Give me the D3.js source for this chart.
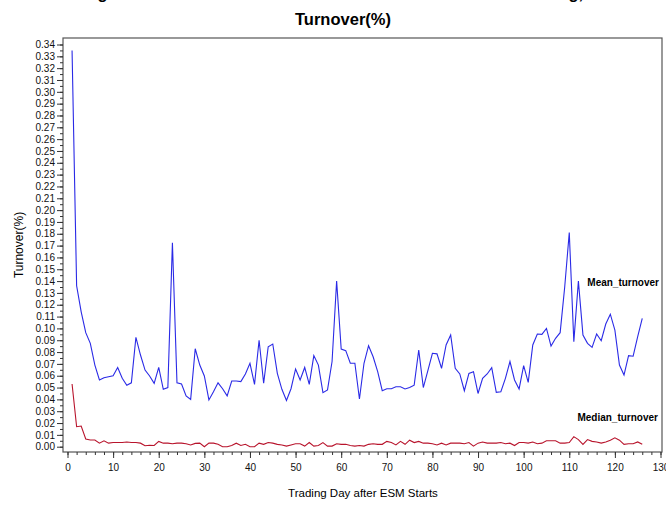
<!DOCTYPE html>
<html>
<head>
<meta charset="utf-8">
<script src="https://cdn.jsdelivr.net/npm/d3@7"></script>
<style>
  body { margin: 0; background: #fff; }
  svg { display: block; font-family: "Liberation Sans", Arial, sans-serif; }
</style>
</head>
<body>
<svg id="chart" width="666" height="506"></svg>
<script>
    // trading day 1..126
    var days = d3.range(1, 127);

    var meanTurnover = [
        0.335, 0.136, 0.114, 0.0964, 0.0874, 0.069, 0.0564, 0.0583, 0.0592, 0.060,
        0.067, 0.0578, 0.052, 0.054, 0.0925, 0.0775, 0.0648, 0.0598, 0.0536, 0.067,
        0.0485, 0.050, 0.1725, 0.054, 0.053, 0.043, 0.040, 0.0828, 0.069, 0.0598,
        0.0395, 0.0465, 0.054, 0.049, 0.043, 0.0555, 0.0555, 0.055, 0.0615, 0.0705,
        0.0527, 0.090, 0.0536, 0.0845, 0.0868, 0.062, 0.0485, 0.039, 0.049, 0.0657,
        0.0564, 0.067, 0.0527, 0.077, 0.069, 0.0457, 0.048, 0.072, 0.140, 0.0826,
        0.0812, 0.0705, 0.0705, 0.0403, 0.0705, 0.0854, 0.076, 0.0634, 0.0473, 0.049,
        0.049, 0.0507, 0.0507, 0.0488, 0.050, 0.052, 0.0817, 0.050, 0.0643, 0.079,
        0.0785, 0.0663, 0.086, 0.0944, 0.0663, 0.0615, 0.0473, 0.062, 0.0634, 0.045,
        0.0578, 0.0615, 0.0668, 0.046, 0.0465, 0.0578, 0.072, 0.0564, 0.0488, 0.0685,
        0.0544, 0.086, 0.0953, 0.095, 0.100, 0.085, 0.0916, 0.0964, 0.135, 0.181,
        0.0888, 0.140, 0.0944, 0.0874, 0.084, 0.0953, 0.0896, 0.1037, 0.112, 0.0986,
        0.069, 0.0606, 0.077, 0.0765, 0.093, 0.1085
    ];

    var medianTurnover = [
        0.053, 0.0169, 0.0175, 0.0065, 0.0057, 0.0057, 0.003, 0.005, 0.003, 0.0035,
        0.0035, 0.0035, 0.004, 0.0035, 0.0035, 0.003, 0.0008, 0.0012, 0.001, 0.0045,
        0.003, 0.003, 0.0025, 0.003, 0.003, 0.0025, 0.0015, 0.0028, 0.003, 0.0,
        0.003, 0.003, 0.002, 0.0, 0.0, 0.001, 0.003, 0.001, 0.002, 0.0,
        0.0, 0.003, 0.002, 0.0035, 0.003, 0.002, 0.0015, 0.0005, 0.0015, 0.0025,
        0.0025, 0.0005, 0.0035, 0.0005, 0.001, 0.0035, 0.0005, 0.0005, 0.0025, 0.002,
        0.002, 0.001, 0.0005, 0.001, 0.0005, 0.002, 0.0025, 0.002, 0.002, 0.0045,
        0.0035, 0.0015, 0.0045, 0.002, 0.0055, 0.0035, 0.0045, 0.003, 0.003, 0.0025,
        0.0015, 0.003, 0.0015, 0.003, 0.003, 0.003, 0.0025, 0.0035, 0.0005, 0.003,
        0.004, 0.003, 0.003, 0.003, 0.0035, 0.0025, 0.003, 0.001, 0.0035, 0.0035,
        0.003, 0.004, 0.0025, 0.003, 0.005, 0.005, 0.005, 0.003, 0.003, 0.0035,
        0.0085, 0.006, 0.002, 0.006, 0.0045, 0.004, 0.003, 0.004, 0.0055, 0.0075,
        0.0055, 0.002, 0.0025, 0.0025, 0.004, 0.002
    ];

    var xTicks = d3.range(0, 131, 10);
    var xMinorTicks = d3.range(0, 131, 2);
    var yTicks = d3.range(0, 35).map(function (i) { return i / 100; });
    var yMinorTicks = d3.range(0, 69).map(function (i) { return i / 200; });

    var svg = d3.select("#chart");

    var frame = { left: 63, top: 38, right: 662, bottom: 452 };

    var x = d3.scaleLinear().domain([0, 130]).range([67.5, 660.5]);
    var y = d3.scaleLinear().domain([0, 0.34]).range([446.7, 44.5]);

    // title (first line runs off the top of the image)
    svg.append("text")
        .attr("x", 333).attr("y", -1)
        .attr("text-anchor", "middle")
        .attr("font-size", 16.5).attr("font-weight", "bold")
        .text("Figure 4: Mean and Median of Stock Turnover after ESM Listing,");
    svg.append("text")
        .attr("x", 343).attr("y", 25)
        .attr("text-anchor", "middle")
        .attr("font-size", 16.5).attr("font-weight", "bold")
        .text("Turnover(%)");

    // frame
    svg.append("rect")
        .attr("x", frame.left).attr("y", frame.top)
        .attr("width", frame.right - frame.left)
        .attr("height", frame.bottom - frame.top)
        .attr("fill", "none")
        .attr("stroke", "#555")
        .attr("stroke-width", 1.2);

    // y axis
    var yMinor = svg.append("g")
        .attr("transform", "translate(" + frame.left + ",0)")
        .call(d3.axisLeft(y).tickValues(yMinorTicks).tickSize(3).tickFormat(""));
    yMinor.select(".domain").remove();

    var yAxis = svg.append("g")
        .attr("transform", "translate(" + frame.left + ",0)")
        .call(d3.axisLeft(y).tickValues(yTicks).tickSize(6).tickPadding(2).tickFormat(d3.format(".2f")));
    yAxis.select(".domain").remove();
    yAxis.selectAll("text").attr("font-size", 10).attr("font-family", "Liberation Sans, Arial, sans-serif").attr("fill", "#111");

    // x axis
    var xMinor = svg.append("g")
        .attr("transform", "translate(0," + frame.bottom + ")")
        .call(d3.axisBottom(x).tickValues(xMinorTicks).tickSize(3).tickFormat(""));
    xMinor.select(".domain").remove();

    var xAxis = svg.append("g")
        .attr("transform", "translate(0," + frame.bottom + ")")
        .call(d3.axisBottom(x).tickValues(xTicks).tickSize(6).tickPadding(6));
    xAxis.select(".domain").remove();
    xAxis.selectAll("text").attr("font-size", 10).attr("font-family", "Liberation Sans, Arial, sans-serif").attr("fill", "#111");

    svg.selectAll(".tick line").attr("stroke", "#333");

    // axis labels
    svg.append("text")
        .attr("transform", "translate(23,245) rotate(-90)")
        .attr("text-anchor", "middle")
        .attr("font-size", 12)
        .text("Turnover(%)");
    svg.append("text")
        .attr("x", 363).attr("y", 497)
        .attr("text-anchor", "middle")
        .attr("font-size", 11.5)
        .text("Trading Day after ESM Starts");

    var line = d3.line()
        .x(function (d) { return x(d[0]); })
        .y(function (d) { return y(d[1]); });

    svg.append("path")
        .datum(d3.zip(days, meanTurnover))
        .attr("d", line)
        .attr("fill", "none")
        .attr("stroke", "#2a2ae6")
        .attr("stroke-width", 1.1);

    svg.append("path")
        .datum(d3.zip(days, medianTurnover))
        .attr("d", line)
        .attr("fill", "none")
        .attr("stroke", "#b8142c")
        .attr("stroke-width", 1.1);

    // series labels
    svg.append("text")
        .attr("x", 659).attr("y", 285.5)
        .attr("text-anchor", "end")
        .attr("font-size", 10).attr("font-weight", "bold")
        .text("Mean_turnover");
    svg.append("text")
        .attr("x", 658).attr("y", 420.5)
        .attr("text-anchor", "end")
        .attr("font-size", 10).attr("font-weight", "bold")
        .text("Median_turnover");
</script>
</body>
</html>
